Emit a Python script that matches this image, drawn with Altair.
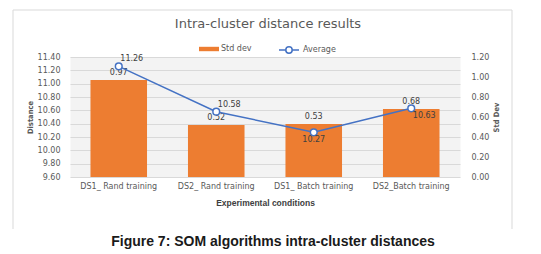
import altair as alt
import pandas as pd

# ---- data ----
categories = ["DS1_ Rand training", "DS2_ Rand training", "DS1_ Batch training", "DS2_Batch training"]
std_dev = [0.97, 0.52, 0.53, 0.68]
average = [11.26, 10.58, 10.27, 10.63]
left_ticks = [9.6, 9.8, 10.0, 10.2, 10.4, 10.6, 10.8, 11.0, 11.2, 11.4]
right_ticks = [0.0, 0.2, 0.4, 0.6, 0.8, 1.0, 1.2]
chart_title = "Intra-cluster distance results"
caption = "Figure 7: SOM algorithms intra-cluster distances"
x_title = "Experimental conditions"
left_title = "Distance"
right_title = "Std Dev"
bar_series = "Std dev"
line_series = "Average"

# ---- styles ----
ORANGE = "#ED7D31"
BLUE = "#4472C4"
GRAY = "#595959"
LABEL = "#404040"
FONT = "DejaVu Sans"
NARROW = "Liberation Sans Narrow, DejaVu Sans Condensed, sans-serif"

df = pd.DataFrame({"cond": categories, "std": std_dev, "avg": average})
df["bar_s"] = bar_series
df["line_s"] = line_series

x = alt.X(
    "cond:N", sort=categories,
    scale=alt.Scale(paddingInner=0.42, paddingOuter=0.21),
    axis=alt.Axis(title=x_title, labelAngle=0, domain=False, ticks=False, grid=False,
                  labelPadding=5, labelFont=FONT, labelFontSize=8, labelColor=GRAY,
                  titleFont="Liberation Sans", titleFontSize=8.5, titleFontWeight="bold",
                  titleColor=LABEL, titleY=25, titleBaseline="middle"),
)

y_std = alt.Y(
    "std:Q", scale=alt.Scale(domain=[0, 1.2], nice=False),
    axis=alt.Axis(orient="right", values=right_ticks, format=".2f", grid=False, domain=False,
                  ticks=False, labelPadding=11, labelFont=FONT, labelFontSize=8, labelColor=GRAY,
                  title=right_title, titleAngle=270, titleX=36, titleY=60, titleBaseline="middle",
                  titleAlign="center", titleFont=NARROW, titleFontSize=7.5,
                  titleFontWeight="bold", titleColor=GRAY),
)

y_avg = alt.Y(
    "avg:Q", scale=alt.Scale(domain=[9.6, 11.4], nice=False, zero=False),
    axis=alt.Axis(orient="left", values=left_ticks, format=".2f", grid=True, gridColor="#d9d9d9",
                  gridWidth=1, domain=False, ticks=False, labelPadding=10, labelFont=FONT,
                  labelFontSize=8, labelColor=GRAY, title=left_title, titleAngle=270,
                  titleX=-40, titleY=60, titleBaseline="middle", titleAlign="center",
                  titleFont=NARROW, titleFontSize=7.5, titleFontWeight="bold", titleColor=GRAY),
)

bars = alt.Chart(df).mark_bar().encode(
    x=x, y=y_std,
    fill=alt.Fill("bar_s:N", scale=alt.Scale(range=[ORANGE]),
                  legend=alt.Legend(title=None, orient="none", legendX=129, legendY=-18,
                                    symbolType="M-1,-0.22H1V0.22H-1Z", symbolSize=400,
                                    symbolStrokeWidth=0, labelFont=FONT, labelFontSize=8,
                                    labelColor=GRAY, labelOffset=2, padding=0)),
)
bar_labels = alt.Chart(df).mark_text(dy=-7.5, baseline="middle", font=FONT, fontSize=8,
                                     color=LABEL).encode(
    x=x, y=y_std, text=alt.Text("std:Q", format=".2f"))

line = alt.Chart(df).transform_window(k="row_number()").mark_line(strokeWidth=1.5).encode(
    x=x, y=y_avg, order=alt.Order("k:Q"),
    stroke=alt.Stroke("line_s:N", scale=alt.Scale(range=[BLUE]),
                      legend=alt.Legend(title=None, orient="none", legendX=208, legendY=-18,
                                        symbolType="M-1,0H-0.32M0.32,0H1M0.32,0A0.32,0.32,0,1,1,-0.32,0A0.32,0.32,0,1,1,0.32,0",
                                        symbolSize=400, symbolStrokeWidth=1.5,
                                        symbolFillColor="white", labelFont=FONT,
                                        labelFontSize=8, labelColor=GRAY, labelOffset=3,
                                        padding=0)),
)
points = alt.Chart(df).mark_point(filled=True, fill="white", stroke=BLUE, strokeWidth=1.5,
                                  size=45, opacity=1).encode(x=x, y=y_avg)

avg_text = dict(baseline="middle", font=FONT, fontSize=8, color=LABEL)
avg_lab_a = alt.Chart(df).transform_filter(
    alt.FieldOneOfPredicate(field="cond", oneOf=categories[:2])
).mark_text(dx=13, dy=-7, **avg_text).encode(x=x, y=y_avg, text=alt.Text("avg:Q", format=".2f"))
avg_lab_b = alt.Chart(df).transform_filter(
    alt.FieldEqualPredicate(field="cond", equal=categories[2])
).mark_text(dx=0, dy=7.5, **avg_text).encode(x=x, y=y_avg, text=alt.Text("avg:Q", format=".2f"))
avg_lab_c = alt.Chart(df).transform_filter(
    alt.FieldEqualPredicate(field="cond", equal=categories[3])
).mark_text(dx=13, dy=8, **avg_text).encode(x=x, y=y_avg, text=alt.Text("avg:Q", format=".2f"))

one = alt.Data(values=[{"a": 1}])
border_l = alt.Chart(one).mark_rule(color="#d9d9d9").encode(
    x=alt.value(-57), y=alt.value(-47), y2=alt.value(172))
border_r = alt.Chart(one).mark_rule(color="#d9d9d9").encode(
    x=alt.value(442), y=alt.value(-47), y2=alt.value(172))
border_t = alt.Chart(one).mark_rule(color="#d9d9d9").encode(
    x=alt.value(-57), x2=alt.value(442), y=alt.value(-47))
title_txt = alt.Chart(one).mark_text(text=chart_title, font=FONT, fontSize=13, color=GRAY,
                                     align="center", baseline="middle").encode(
    x=alt.value(198), y=alt.value(-33))
caption_txt = alt.Chart(one).mark_text(text=caption, font="Liberation Sans", fontWeight="bold",
                                       fontSize=14, color="#1a1a1a", align="center",
                                       baseline="middle").encode(
    x=alt.value(203), y=alt.value(185))

right = alt.layer(bars, bar_labels)
left = alt.layer(line, points, avg_lab_a, avg_lab_b, avg_lab_c)
deco = alt.layer(border_l, border_r, border_t, title_txt, caption_txt)

chart = alt.layer(right, left, deco).resolve_scale(y="independent").properties(
    width=390, height=120,
    autosize=alt.AutoSizeParams(type="none"),
    padding={"left": 62, "top": 49, "right": 73, "bottom": 74},
).configure_view(fill="#f3f3f3", stroke="transparent")

chart.save("out.html", embed_options={"renderer": "svg", "actions": False})
